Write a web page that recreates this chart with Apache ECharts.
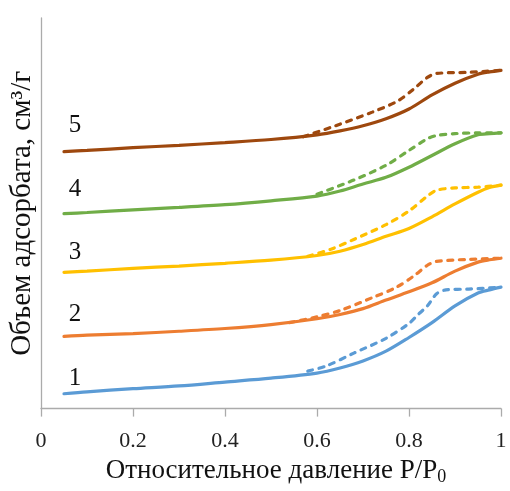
<!DOCTYPE html>
<html>
<head>
<meta charset="utf-8">
<script src="https://cdn.jsdelivr.net/npm/echarts@6/dist/echarts.min.js"></script>
<style>
  html, body { margin: 0; padding: 0; background: #fff; }
  #chart { width: 510px; height: 491px; }
</style>
</head>
<body>
<div id="chart"></div>
<script>
// Nitrogen isotherms for five samples (stacked with offsets), P/P0 vs adsorbed volume.
// Adsorption branches (solid)
const adsP = [0.05, 0.1, 0.2, 0.3, 0.4, 0.5, 0.6, 0.65, 0.7, 0.75, 0.8, 0.85, 0.9, 0.95, 0.975, 1.0];
const ads1 = [3.8, 4.3, 5.1, 5.8, 6.8, 7.8, 9.1, 10.4, 12.2, 14.7, 18.2, 22.0, 26.3, 29.6, 30.4, 31.1];
const ads2 = [18.5, 18.8, 19.2, 19.8, 20.5, 21.5, 23.0, 24.1, 25.6, 27.8, 29.9, 32.2, 35.2, 37.5, 38.1, 38.5];
const ads3 = [34.9, 35.2, 35.9, 36.5, 37.2, 38.0, 39.2, 40.3, 42.0, 44.1, 46.1, 49.1, 52.4, 55.4, 56.6, 57.2];
const ads4 = [49.9, 50.2, 50.9, 51.5, 52.2, 53.2, 54.4, 55.7, 57.5, 59.2, 61.8, 64.8, 67.8, 70.1, 70.4, 70.6];
const ads5 = [65.8, 66.1, 66.8, 67.4, 68.1, 68.9, 70.1, 71.1, 72.4, 74.2, 76.7, 80.3, 83.3, 85.6, 86.2, 86.6];

// Desorption branches (dashed)
const desP1 = [0.58, 0.62, 0.68, 0.75, 0.8, 0.82, 0.84, 0.86, 0.88, 0.93, 1.0];
const des1  = [9.6, 10.9, 14.2, 18.0, 21.8, 24.1, 26.3, 29.4, 30.4, 30.6, 31.1];
const desP2 = [0.54, 0.6, 0.65, 0.72, 0.77, 0.81, 0.84, 0.86, 0.93, 1.0];
const des2  = [22.0, 23.5, 25.1, 28.4, 30.9, 33.9, 36.7, 37.7, 38.2, 38.5];
const desP3 = [0.58, 0.63, 0.68, 0.75, 0.8, 0.84, 0.86, 0.9, 0.95, 1.0];
const des3  = [39.0, 40.8, 43.3, 47.1, 50.6, 54.4, 55.9, 56.5, 56.7, 57.2];
const desP4 = [0.6, 0.68, 0.75, 0.8, 0.84, 0.86, 0.9, 0.95, 1.0];
const des4  = [54.9, 58.5, 62.3, 66.1, 69.1, 69.9, 70.4, 70.6, 70.6];
const desP5 = [0.57, 0.64, 0.72, 0.775, 0.81, 0.84, 0.86, 0.93, 1.0];
const des5  = [69.6, 72.4, 75.9, 78.7, 81.8, 84.8, 85.8, 86.1, 86.6];

const curveNames = ['1', '2', '3', '4', '5'];
const xTicks = [0, 0.2, 0.4, 0.6, 0.8, 1];

const colors = ['#5B9BD5', '#ED7D31', '#FFC000', '#70AD47', '#9E480E'];
const adsSets = [ads1, ads2, ads3, ads4, ads5];
const desSets = [[desP1, des1], [desP2, des2], [desP3, des3], [desP4, des4], [desP5, des5]];
// where each curve number sits (x in P/P0, lift above the branch start in axis units)
const tagX = 0.074;
const tagLift = [4.0, 5.6, 5.1, 6.3, 6.6];

const pairs = (xs, ys) => xs.map((x, i) => [x, ys[i]]);
const serif = '"Liberation Serif", "Times New Roman", serif';

const series = [];
adsSets.forEach((ys, i) => {
  series.push({
    name: curveNames[i] + ' adsorption',
    type: 'line',
    data: pairs(adsP, ys),
    smooth: 0.3,
    showSymbol: false,
    lineStyle: { color: colors[i], width: 3.2, cap: 'round' },
    z: 3
  });
});
desSets.forEach(([xs, ys], i) => {
  series.push({
    name: curveNames[i] + ' desorption',
    type: 'line',
    data: pairs(xs, ys),
    smooth: 0.3,
    showSymbol: false,
    lineStyle: { color: colors[i], width: 3.2, type: [5, 6.5], cap: 'round' },
    z: 2
  });
});

const chart = echarts.init(document.getElementById('chart'), null, { renderer: 'canvas' });
chart.setOption({
  animation: false,
  backgroundColor: '#fff',
  grid: { left: 41, right: 9, top: 18, bottom: 78 },
  xAxis: {
    type: 'value',
    min: 0, max: 1, interval: 0.2,
    name: 'Относительное давление P/P{sub|0}',
    nameLocation: 'middle',
    nameGap: 45,
    nameTextStyle: {
      color: '#111', fontFamily: serif, fontSize: 27, padding: [0, 0, 0, 10],
      rich: { sub: { fontFamily: serif, fontSize: 18, verticalAlign: 'bottom', padding: [12, 0, 0, 0], color: '#111' } }
    },
    axisLine: { show: true, lineStyle: { color: '#ABABAB', width: 1.3 } },
    axisTick: { show: true, length: 8, lineStyle: { color: '#ABABAB', width: 1.3 } },
    splitLine: { show: false },
    axisLabel: {
      margin: 22, color: '#222', fontFamily: serif, fontSize: 22,
      formatter: v => {
        const t = xTicks.find(k => Math.abs(k - v) < 1e-9);
        return t === undefined ? '' : String(t);
      }
    }
  },
  yAxis: {
    type: 'value',
    min: 0, max: 100,
    name: 'Объем адсорбата, см³/г',
    nameLocation: 'middle',
    nameRotate: 90,
    nameGap: 4,
    nameTextStyle: { color: '#111', fontFamily: serif, fontSize: 29 },
    axisLine: { show: true, lineStyle: { color: '#ABABAB', width: 1.3 } },
    axisTick: { show: false },
    axisLabel: { show: false },
    splitLine: { show: false }
  },
  series
});

// curve numbers, placed through the axes' own scales
chart.setOption({
  graphic: adsSets.map((ys, i) => {
    const [px, py] = chart.convertToPixel({ gridIndex: 0 }, [tagX, ys[0] + tagLift[i]]);
    return {
      type: 'text',
      x: px, y: py,
      silent: true,
      style: {
        text: curveNames[i], fill: '#111',
        font: '25px ' + serif, align: 'center', verticalAlign: 'middle'
      }
    };
  })
});
</script>
</body>
</html>
